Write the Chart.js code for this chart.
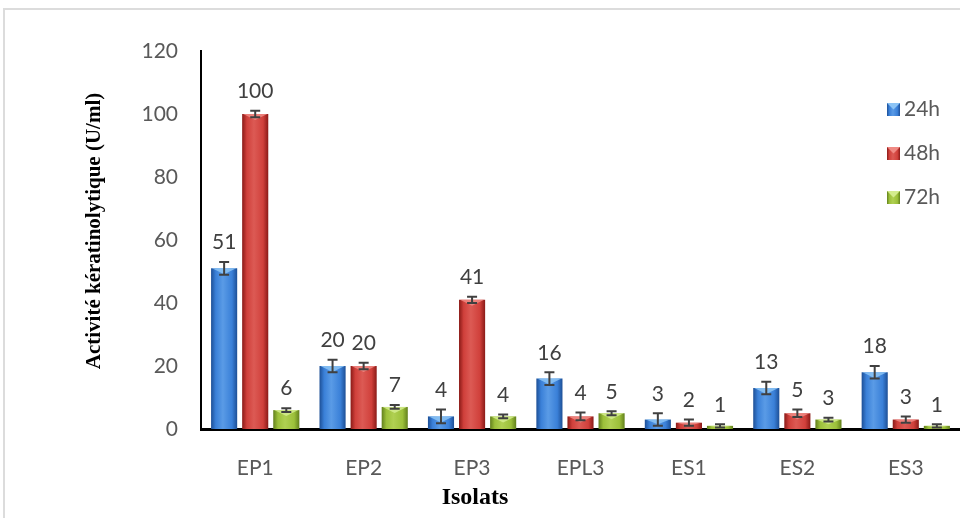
<!DOCTYPE html>
<html>
<head>
<meta charset="utf-8">
<script src="https://cdn.jsdelivr.net/npm/chart.js@4.4.1/dist/chart.umd.min.js"></script>
<style>
  html, body { margin: 0; padding: 0; background: #fff; }
  #wrap { position: relative; width: 960px; height: 518px; overflow: hidden; }
  #frame { position: absolute; left: 3px; top: 8px; width: 970px; height: 530px;
           border-left: 2px solid #dcdcdc; border-top: 2px solid #dcdcdc; box-sizing: border-box; }
  #c { position: absolute; left: 0; top: 0; }
</style>
</head>
<body>
<div id="wrap">
  <div id="frame"></div>
  <canvas id="c" width="960" height="518"></canvas>
</div>
<script>
// Keratinolytic activity (U/ml) per isolate after 24h, 48h and 72h
const isolats = ['EP1', 'EP2', 'EP3', 'EPL3', 'ES1', 'ES2', 'ES3'];
const series = ['24h', '48h', '72h'];
const act24 = [51, 20, 4, 16, 3, 13, 18];
const act48 = [100, 20, 41, 4, 2, 5, 3];
const act72 = [6, 7, 4, 5, 1, 3, 1];
// standard deviations (error bars)
const err24 = [2, 2, 2.2, 2, 2, 2, 2];
const err48 = [1, 1, 1, 1.2, 1, 1.2, 1];
const err72 = [0.6, 0.6, 0.6, 0.6, 0.5, 0.6, 0.5];
const yTicks = [0, 20, 40, 60, 80, 100, 120];

// shading for each series: edge, centre, top bevel
const palette = [
  { edge: '#1d4f96', mid: '#3a80d8', light: '#5a9be6', bevel: '#8cc4f5' },
  { edge: '#8a1a17', mid: '#d0403b', light: '#dc5a54', bevel: '#f08a84' },
  { edge: '#62801c', mid: '#9cc03a', light: '#b0d052', bevel: '#d4ec8e' }
];

const TICK_FONT = { family: 'Lato', size: 21 };
const TEXT_GREY = '#595959';

function barGradient(ctx, left, right, p) {
  const g = ctx.createLinearGradient(left, 0, right, 0);
  g.addColorStop(0, p.edge);
  g.addColorStop(0.18, p.mid);
  g.addColorStop(0.45, p.light);
  g.addColorStop(0.8, p.mid);
  g.addColorStop(1, p.edge);
  return g;
}

// Horizontal shading applied per bar once elements are positioned
const shading = {
  id: 'shading',
  beforeDatasetsDraw(chart) {
    const ctx = chart.ctx;
    chart.data.datasets.forEach((ds, di) => {
      const meta = chart.getDatasetMeta(di);
      meta.data.forEach(el => {
        const left = el.x - el.width / 2, right = el.x + el.width / 2;
        el.options = Object.assign({}, el.options, { backgroundColor: barGradient(ctx, left, right, palette[di]) });
      });
    });
  },
  afterDatasetsDraw(chart) {
    const ctx = chart.ctx;
    ctx.save();
    chart.data.datasets.forEach((ds, di) => {
      const meta = chart.getDatasetMeta(di);
      meta.data.forEach(el => {
        const left = el.x - el.width / 2, right = el.x + el.width / 2;
        const h = el.base - el.y;
        const bev = Math.min(6, h * 0.5);
        ctx.fillStyle = palette[di].bevel;
        ctx.globalAlpha = 0.85;
        ctx.beginPath();
        ctx.moveTo(left + 1, el.y);
        ctx.lineTo(right - 1, el.y);
        ctx.lineTo(el.x, el.y + bev);
        ctx.closePath();
        ctx.fill();
      });
    });
    ctx.restore();
  }
};

// Error bars and value labels
const errorBars = {
  id: 'errorBars',
  afterDatasetsDraw(chart) {
    const ctx = chart.ctx;
    const ys = chart.scales.y;
    ctx.save();
    chart.data.datasets.forEach((ds, di) => {
      const meta = chart.getDatasetMeta(di);
      meta.data.forEach((el, i) => {
        const v = ds.data[i], e = ds.errors[i];
        const top = ys.getPixelForValue(v + e);
        const bot = ys.getPixelForValue(Math.max(v - e, 0));
        ctx.strokeStyle = '#404040';
        ctx.lineWidth = 2;
        ctx.beginPath();
        ctx.moveTo(el.x, top); ctx.lineTo(el.x, bot);
        ctx.moveTo(el.x - 5, top); ctx.lineTo(el.x + 5, top);
        ctx.moveTo(el.x - 5, bot); ctx.lineTo(el.x + 5, bot);
        ctx.stroke();
        ctx.fillStyle = '#404040';
        ctx.font = '21px Lato';
        ctx.textAlign = 'center';
        ctx.textBaseline = 'bottom';
        ctx.fillText(String(v), el.x, top - 9);
      });
    });
    ctx.restore();
  }
};

// Legend drawn at the right, inside the plotting region
const sideLegend = {
  id: 'sideLegend',
  afterDraw(chart) {
    const ctx = chart.ctx;
    ctx.save();
    chart.data.datasets.forEach((ds, di) => {
      const y = 109 + di * 44;
      const x = 887;
      ctx.fillStyle = barGradient(ctx, x, x + 13, palette[di]);
      ctx.fillRect(x, y - 6, 13, 13);
      ctx.fillStyle = palette[di].bevel;
      ctx.beginPath();
      ctx.moveTo(x, y - 6); ctx.lineTo(x + 13, y - 6); ctx.lineTo(x + 6.5, y + 0.5); ctx.closePath();
      ctx.fill();
      ctx.fillStyle = TEXT_GREY;
      ctx.font = '21px Lato';
      ctx.textAlign = 'left';
      ctx.textBaseline = 'middle';
      ctx.fillText(ds.label, x + 17, y);
    });
    ctx.restore();
  }
};

// Axis titles
const axisTitles = {
  id: 'axisTitles',
  afterDraw(chart) {
    const ctx = chart.ctx;
    ctx.save();
    ctx.fillStyle = '#000';
    ctx.font = 'bold 24px "Liberation Serif"';
    ctx.textAlign = 'center';
    ctx.textBaseline = 'middle';
    ctx.fillText('Isolats', 475, 498);
    ctx.font = 'bold 21px "Liberation Serif"';
    ctx.translate(95, 231);
    ctx.rotate(-Math.PI / 2);
    ctx.fillText('Activité kératinolytique (U/ml)', 0, 0);
    ctx.restore();
  }
};

const datasets = [act24, act48, act72].map((vals, k) => ({
  label: series[k],
  data: vals,
  errors: [err24, err48, err72][k],
  backgroundColor: palette[k].mid,
  borderWidth: 0,
  barPercentage: 0.84,
  categoryPercentage: 0.86
}));

new Chart(document.getElementById('c'), {
  type: 'bar',
  data: { labels: isolats, datasets },
  options: {
    responsive: false,
    animation: false,
    events: [],
    layout: { padding: { top: 51, right: 0, left: 0, bottom: 0 } },
    plugins: { legend: { display: false }, tooltip: { enabled: false } },
    scales: {
      x: {
        grid: { display: false, drawTicks: false },
        border: { display: true, color: '#000', width: 3 },
        ticks: { color: TEXT_GREY, font: TICK_FONT, padding: 27 },
        afterFit(scale) { scale.height = 89; }
      },
      y: {
        min: 0, max: 120,
        afterBuildTicks(scale) { scale.ticks = yTicks.map(v => ({ value: v })); },
        grid: { display: false, drawTicks: false },
        border: { display: true, color: '#000', width: 2 },
        ticks: { color: TEXT_GREY, font: TICK_FONT, padding: 23 },
        afterFit(scale) { scale.width = 201; }
      }
    }
  },
  plugins: [shading, errorBars, sideLegend, axisTitles]
});
</script>
</body>
</html>
